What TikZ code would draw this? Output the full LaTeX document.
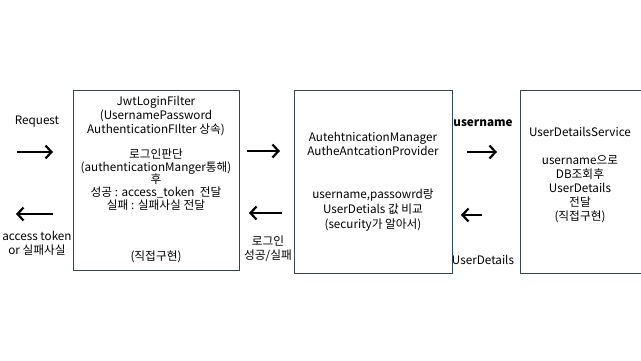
\documentclass[tikz,border=0pt]{standalone}
\usepackage{fontspec}
\setmainfont{Noto Sans CJK KR}
\usetikzlibrary{arrows.meta}
\definecolor{boxline}{HTML}{34475A}
\tikzset{
  box/.style={draw=boxline, line width=1.1pt},
  txt/.style={align=center, inner sep=0pt, font=\fontsize{11.7}{14}\selectfont},
  flow/.style={line width=2.5pt, -{Straight Barb[length=6pt,width=13pt,line width=2.2pt]}},
}
\begin{document}
\begin{tikzpicture}[x=1pt,y=-1pt]
\useasboundingbox (0,0) rectangle (641,361);
\clip (0,0) rectangle (641,361);
% boxes
\node[box, minimum width=166pt, minimum height=180pt, anchor=north west] (box1) at (73,90) {};
\node[box, minimum width=158pt, minimum height=183pt, anchor=north west] (box2) at (294,90) {};
\node[box, minimum width=160pt, minimum height=183pt, anchor=north west] (box3) at (520,90) {};
% texts
\node[txt] (req) at (37,122) {Request};
\node[txt] (resp) at (37,243) {access token\\or 실패사실};
\node[txt] (t1a) at (156,116) {JwtLoginFilter\\(UsernamePassword\\AuthenticationFIlter 상속)};
\node[txt, font=\fontsize{11.7}{12.8}\selectfont] (t1b) at (156,179.5) {로그인판단\\(authenticationManger통해)\\후\\성공 : access\_token\ \ 전달\\실패 : 실패사실 전달};
\node[txt] (t1c) at (156,257) {(직접구현)};
\node[txt] (t2a) at (373,144) {AutehtnicationManager\\AutheAntcationProvider};
\node[txt, font=\fontsize{11.7}{15}\selectfont] (t2b) at (373,210) {username,passowrd랑\\UserDetials 값 비교\\(security가 알아서)};
\node[txt] (lbl1) at (268,249) {로그인\\성공/실패};
\node[txt, font=\bfseries\fontsize{11.7}{14}\selectfont] (lbl2) at (483,123) {username};
\node[txt] (lbl3) at (483,260) {UserDetails};
\node[txt] (t3a) at (580,132) {UserDetailsService};
\node[txt, font=\fontsize{11.7}{14}\selectfont] (t3b) at (580,189) {username으로\\DB조회후\\UserDetails\\전달\\(직접구현)};
% arrow end points
\coordinate (a1s) at (17,152); \coordinate (a1e) at (53,152);
\coordinate (a2s) at (53,214); \coordinate (a2e) at (16,214);
\coordinate (a3s) at (247,151); \coordinate (a3e) at (280,151);
\coordinate (a4s) at (282,213); \coordinate (a4e) at (249,213);
\coordinate (a5s) at (467,152); \coordinate (a5e) at (497,152);
\coordinate (a6s) at (482,215); \coordinate (a6e) at (461,215);
\draw[flow] (a1s) -- (a1e);
\draw[flow] (a2s) -- (a2e);
\draw[flow] (a3s) -- (a3e);
\draw[flow] (a4s) -- (a4e);
\draw[flow] (a5s) -- (a5e);
\draw[flow] (a6s) -- (a6e);
\end{tikzpicture}
\end{document}
